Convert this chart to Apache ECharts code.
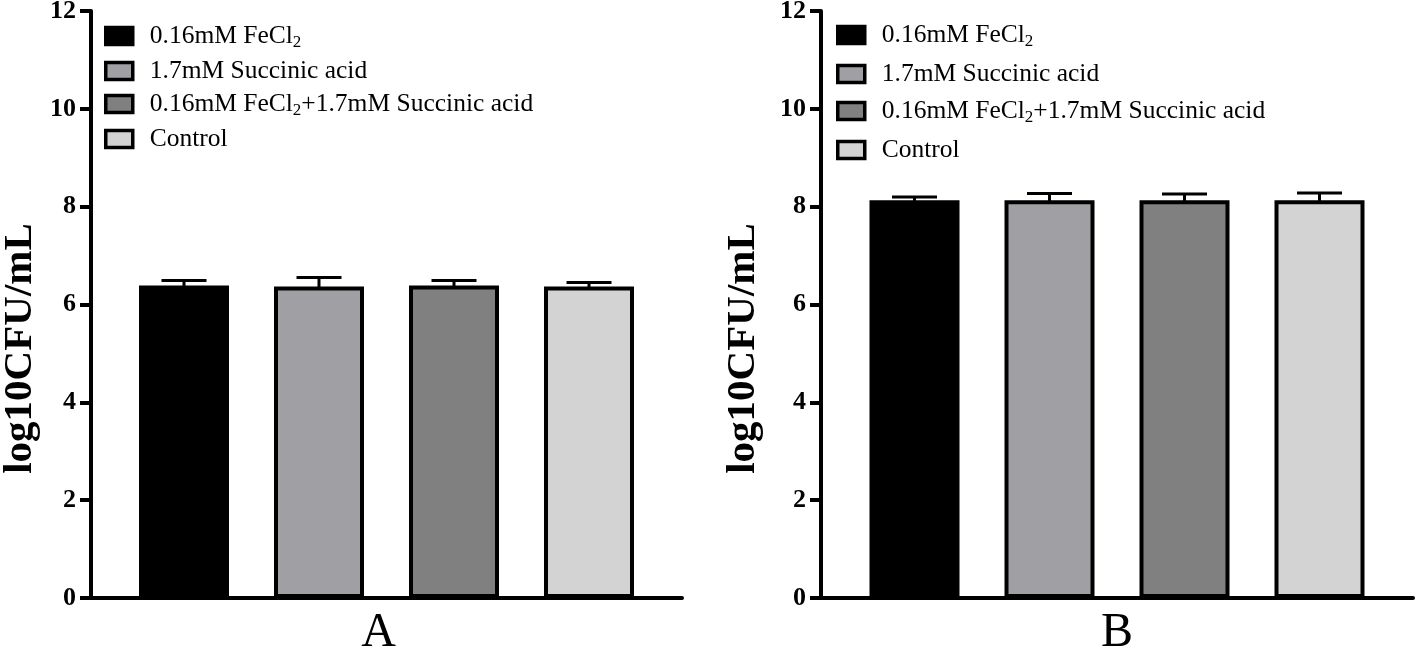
<!DOCTYPE html>
<html>
<head>
<meta charset="utf-8">
<script src="https://cdn.jsdelivr.net/npm/echarts@6/dist/echarts.min.js"></script>
<style>
html,body{margin:0;padding:0;background:#fff;}
#chart{width:1416px;height:658px;}
</style>
</head>
<body>
<div id="chart"></div>
<script>
// ---- data ----
const panels = ['A', 'B'];
const seriesNames = ['0.16mM FeCl2', '1.7mM Succinic acid', '0.16mM FeCl2+1.7mM Succinic acid', 'Control'];
const meansA = [6.39, 6.37, 6.39, 6.37];
const errorsA = [0.1, 0.18, 0.1, 0.08];
const meansB = [8.13, 8.13, 8.13, 8.13];
const errorsB = [0.07, 0.14, 0.13, 0.15];
const yTicks = [0, 2, 4, 6, 8, 10, 12];
const yName = 'log10CFU/mL';

// ---- style ----
const colors = ['#000000', '#a0a0a4', '#808080', '#d3d3d3'];
const FONT = '"Liberation Serif", "Times New Roman", serif';
const BAR_W = 90;
const STEP = 135;
const BAR_GAP = STEP / BAR_W - 1;

const chart = echarts.init(document.getElementById('chart'));

const grids = [
  {left: 91, top: 11, width: 591, height: 587, outerBoundsMode: 'none', containLabel: false},
  {left: 821, top: 11, width: 592, height: 587, outerBoundsMode: 'none', containLabel: false}
];
const nameGaps = [50, 57];
const catLabelPad = [[0, 16, 0, 0], [0, 0, 0, 0]];

function legendFormatter(name) {
  const parts = name.split('FeCl2');
  let out = '';
  parts.forEach((p, i) => {
    if (i > 0) out += '{t|FeCl}{s|2}';
    if (p) out += '{t|' + p + '}';
  });
  return out;
}

const legendRich = {
  t: {fontFamily: FONT, fontSize: 25.5, color: '#000', lineHeight: 30, verticalAlign: 'middle'},
  s: {fontFamily: FONT, fontSize: 17, color: '#000', lineHeight: 17, verticalAlign: 'bottom'}
};

const xAxes = panels.map((p, i) => ({
  type: 'category',
  gridIndex: i,
  data: [p],
  axisLine: {lineStyle: {color: '#000', width: 4}},
  axisTick: {show: false},
  axisLabel: {fontFamily: FONT, fontSize: 48, color: '#000', margin: 11, padding: catLabelPad[i]}
}));

const yAxes = panels.map((p, i) => ({
  type: 'value',
  gridIndex: i,
  min: yTicks[0],
  max: yTicks[yTicks.length - 1],
  interval: yTicks[1] - yTicks[0],
  name: yName,
  nameLocation: 'middle',
  nameGap: nameGaps[i],
  nameTextStyle: {fontFamily: FONT, fontSize: 41, fontWeight: 'bold', color: '#000', padding: [0, 88, 0, 0]},
  splitLine: {show: false},
  axisLine: {show: true, lineStyle: {color: '#000', width: 4}},
  axisTick: {show: true, length: 11, lineStyle: {color: '#000', width: 4}},
  axisLabel: {fontFamily: FONT, fontSize: 26, fontWeight: 'bold', color: '#000', margin: 15}
}));

const series = [];
const allMeans = [meansA, meansB];
const allErrors = [errorsA, errorsB];
panels.forEach((p, pi) => {
  seriesNames.forEach((n, k) => {
    series.push({
      type: 'bar',
      name: n,
      xAxisIndex: pi,
      yAxisIndex: pi,
      barWidth: BAR_W,
      barGap: (BAR_GAP * 100) + '%',
      data: [allMeans[pi][k]],
      itemStyle: {color: colors[k], borderColor: '#000', borderWidth: 4},
      emphasis: {disabled: true},
      animation: false
    });
  });
  series.push({
    type: 'custom',
    xAxisIndex: pi,
    yAxisIndex: pi,
    z: 10,
    animation: false,
    data: allMeans[pi].map((m, k) => [0, m, allErrors[pi][k], k]),
    renderItem: function (params, api) {
      const k = api.value(3);
      const base = api.coord([api.value(0), api.value(1)]);
      const top = api.coord([api.value(0), api.value(1) + api.value(2)]);
      const cx = base[0] + (k - 1.5) * STEP;
      const half = 22.5;
      const style = {stroke: '#000', lineWidth: 3};
      return {
        type: 'group',
        children: [
          {type: 'line', shape: {x1: cx, y1: base[1] + 1, x2: cx, y2: top[1]}, style: style},
          {type: 'line', shape: {x1: cx - half, y1: top[1], x2: cx + half, y2: top[1]}, style: style}
        ]
      };
    }
  });
});

function makeLegend(left, top, gap) {
  return {
    left: left, top: top, orient: 'vertical', icon: 'rect', itemWidth: 27, itemHeight: 17, itemGap: gap,
    padding: 0,
    data: seriesNames, formatter: legendFormatter,
    itemStyle: {borderColor: '#000', borderWidth: 3.5},
    textStyle: {rich: legendRich, padding: [0, 0, 0, 12]},
    selectedMode: false
  };
}

const option = {
  backgroundColor: '#fff',
  animation: false,
  grid: grids,
  xAxis: xAxes,
  yAxis: yAxes,
  legend: [makeLegend(104, 23, 7), makeLegend(836, 22, 11)],
  series: series
};
chart.setOption(option);
</script>
</body>
</html>
